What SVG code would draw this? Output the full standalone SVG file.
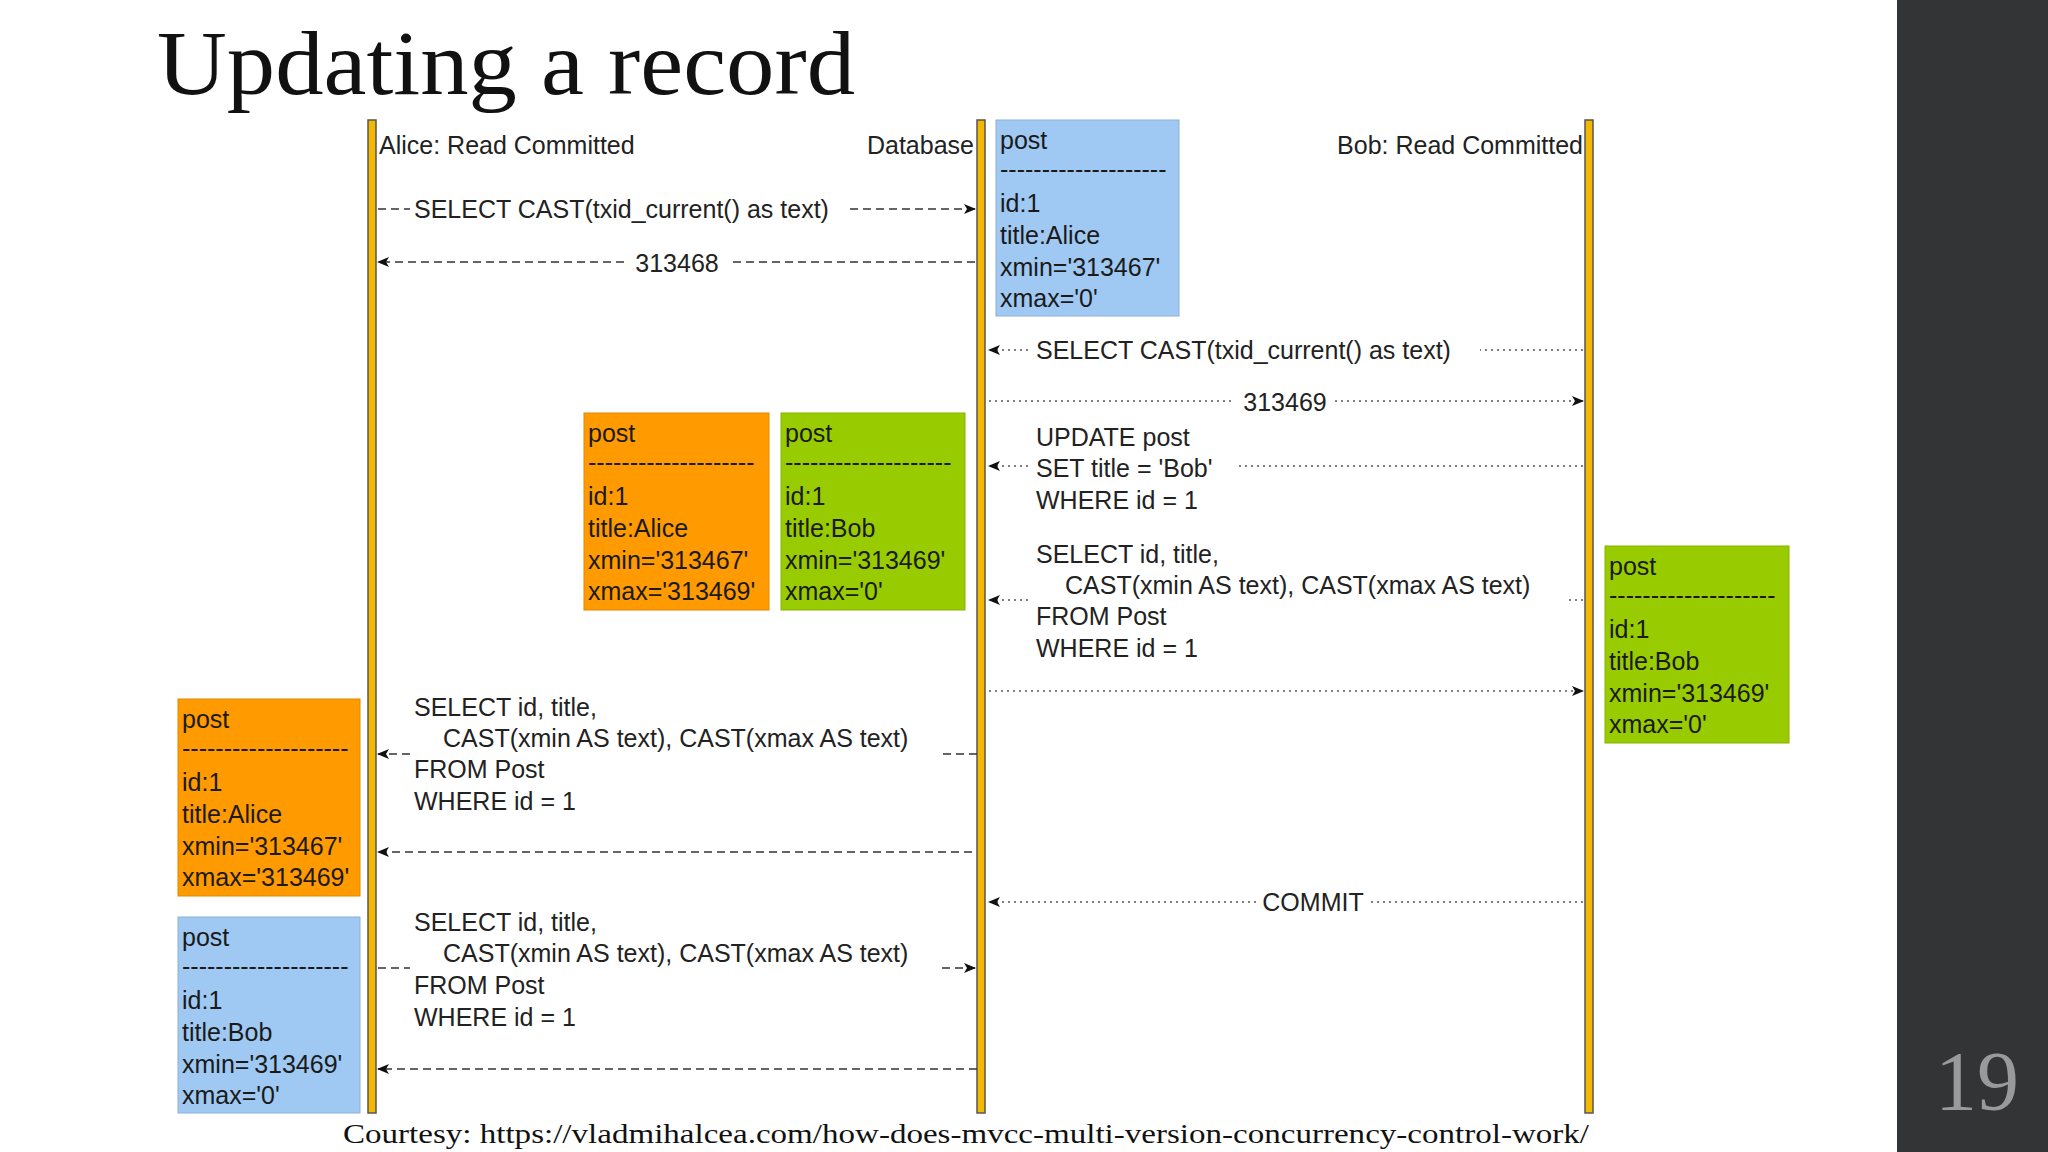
<svg xmlns="http://www.w3.org/2000/svg" width="2048" height="1152" viewBox="0 0 2048 1152">
<defs>
<marker id="ah" viewBox="0 0 12 10" refX="11" refY="5" markerWidth="12" markerHeight="10" markerUnits="userSpaceOnUse" orient="auto">
<path d="M0,0 L12,5 L0,10 L3,5 Z" fill="#111"/>
</marker>
<style>
text{font-family:"Liberation Sans",Arial,sans-serif;font-size:25px;fill:#222}
.box text{fill:#1a1a1a}
.life{fill:#f5b800;stroke:#555;stroke-width:1.5}
.dash{stroke:#333;stroke-width:1.6;stroke-dasharray:8 5;fill:none}
.dot{stroke:#555;stroke-width:1.6;stroke-dasharray:2 4;fill:none}
.blue{fill:#9fc9f2;stroke:#8ab0d8}
.orange{fill:#ff9a00;stroke:#e08800}
.green{fill:#99cc00;stroke:#88b300}
</style>
</defs>
<rect width="2048" height="1152" fill="#fff"/>
<rect x="1897" y="0" width="151" height="1152" fill="#333436"/>
<text x="1935" y="1110" style="font-family:'Liberation Serif',serif;font-size:84px;fill:#9a9a9a">19</text>
<text x="157" y="94" style="font-family:'Liberation Serif',serif;font-size:92px;fill:#111" textLength="698" lengthAdjust="spacingAndGlyphs">Updating a record</text>
<text x="343" y="1143" style="font-family:'Liberation Serif',serif;font-size:27px;fill:#111" textLength="1246" lengthAdjust="spacingAndGlyphs">Courtesy: https://vladmihalcea.com/how-does-mvcc-multi-version-concurrency-control-work/</text>

<g id="lifelines">
<rect class="life" x="368" y="120" width="8" height="993"/>
<rect class="life" x="977" y="120" width="8" height="993"/>
<rect class="life" x="1585" y="120" width="8" height="993"/>
<text x="379" y="154">Alice: Read Committed</text>
<text x="974" y="154" text-anchor="end">Database</text>
<text x="1583" y="154" text-anchor="end">Bob: Read Committed</text>
</g>

<g id="box-db" class="box">
<rect class="blue" x="996" y="120" width="183" height="196"/>
<text x="1000" y="149">post</text><text x="1000" y="178">--------------------</text>
<text x="1000" y="212">id:1</text><text x="1000" y="244">title:Alice</text><text x="1000" y="276">xmin='313467'</text><text x="1000" y="307">xmax='0'</text>
</g>
<g id="box-mid-orange" class="box">
<rect class="orange" x="584" y="413" width="185" height="197"/>
<text x="588" y="442">post</text><text x="588" y="471">--------------------</text>
<text x="588" y="505">id:1</text><text x="588" y="537">title:Alice</text><text x="588" y="569">xmin='313467'</text><text x="588" y="600">xmax='313469'</text>
</g>
<g id="box-mid-green" class="box">
<rect class="green" x="781" y="413" width="184" height="197"/>
<text x="785" y="442">post</text><text x="785" y="471">--------------------</text>
<text x="785" y="505">id:1</text><text x="785" y="537">title:Bob</text><text x="785" y="569">xmin='313469'</text><text x="785" y="600">xmax='0'</text>
</g>
<g id="box-bob" class="box">
<rect class="green" x="1605" y="546" width="184" height="197"/>
<text x="1609" y="575">post</text><text x="1609" y="604">--------------------</text>
<text x="1609" y="638">id:1</text><text x="1609" y="670">title:Bob</text><text x="1609" y="702">xmin='313469'</text><text x="1609" y="733">xmax='0'</text>
</g>
<g id="box-alice-1" class="box">
<rect class="orange" x="178" y="699" width="182" height="197"/>
<text x="182" y="728">post</text><text x="182" y="757">--------------------</text>
<text x="182" y="791">id:1</text><text x="182" y="823">title:Alice</text><text x="182" y="855">xmin='313467'</text><text x="182" y="886">xmax='313469'</text>
</g>
<g id="box-alice-2" class="box">
<rect class="blue" x="178" y="917" width="182" height="196"/>
<text x="182" y="946">post</text><text x="182" y="975">--------------------</text>
<text x="182" y="1009">id:1</text><text x="182" y="1041">title:Bob</text><text x="182" y="1073">xmin='313469'</text><text x="182" y="1104">xmax='0'</text>
</g>

<g id="connectors">
<path class="dash" d="M378,209 H410 M850,209 H975" marker-end="url(#ah)"/>
<text x="414" y="218">SELECT CAST(txid_current() as text)</text>
<path class="dash" d="M975,262 H728 M624,262 H378" marker-end="url(#ah)"/>
<text x="677" y="272" text-anchor="middle">313468</text>

<path class="dot" d="M1583,350 H1480 M1028,350 H989" marker-end="url(#ah)"/>
<text x="1036" y="359">SELECT CAST(txid_current() as text)</text>
<path class="dot" d="M989,401 H1235 M1335,401 H1583" marker-end="url(#ah)"/>
<text x="1285" y="411" text-anchor="middle">313469</text>

<path class="dot" d="M1583,466 H1236 M1028,466 H989" marker-end="url(#ah)"/>
<text x="1036" y="446">UPDATE post</text><text x="1036" y="477">SET title = 'Bob'</text><text x="1036" y="509">WHERE id = 1</text>

<path class="dot" d="M1583,600 H1566 M1028,600 H989" marker-end="url(#ah)"/>
<text x="1036" y="563">SELECT id, title,</text><text x="1065" y="594">CAST(xmin AS text), CAST(xmax AS text)</text><text x="1036" y="625">FROM Post</text><text x="1036" y="657">WHERE id = 1</text>

<path class="dot" d="M989,691 H1583" marker-end="url(#ah)"/>

<path class="dash" d="M977,754 H940 M410,754 H378" marker-end="url(#ah)"/>
<text x="414" y="716">SELECT id, title,</text><text x="443" y="747">CAST(xmin AS text), CAST(xmax AS text)</text><text x="414" y="778">FROM Post</text><text x="414" y="810">WHERE id = 1</text>
<path class="dash" d="M972,852 H378" marker-end="url(#ah)"/>

<path class="dot" d="M1583,902 H1370 M1256,902 H989" marker-end="url(#ah)"/>
<text x="1313" y="911" text-anchor="middle">COMMIT</text>

<path class="dash" d="M378,968 H410 M942,968 H975" marker-end="url(#ah)"/>
<text x="414" y="931">SELECT id, title,</text><text x="443" y="962">CAST(xmin AS text), CAST(xmax AS text)</text><text x="414" y="994">FROM Post</text><text x="414" y="1026">WHERE id = 1</text>
<path class="dash" d="M977,1069 H378" marker-end="url(#ah)"/>
</g>
</svg>
